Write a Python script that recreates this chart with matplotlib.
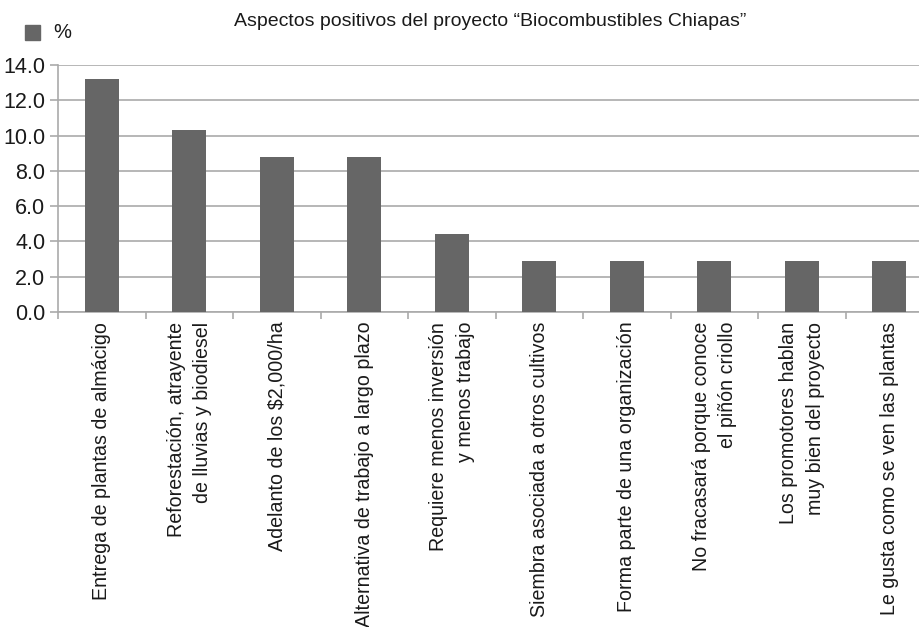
import matplotlib
matplotlib.use("Agg")
import matplotlib.pyplot as plt
import numpy as np

plt.rcParams["font.family"] = ["Liberation Sans Narrow", "Liberation Sans", "DejaVu Sans"]

# Data
categories = [
    "Entrega de plantas de almácigo",
    "Reforestación, atrayente\nde lluvias y biodiesel",
    "Adelanto de los $2,000/ha",
    "Alternativa de trabajo a largo plazo",
    "Requiere menos inversión\ny menos trabajo",
    "Siembra asociada a otros cultivos",
    "Forma parte de una organización",
    "No fracasará porque conoce\nel piñón criollo",
    "Los promotores hablan\nmuy bien del proyecto",
    "Le gusta como se ven las plantas",
]
values = [13.2, 10.3, 8.8, 8.8, 4.4, 2.9, 2.9, 2.9, 2.9, 2.9]
y_ticks = [0.0, 2.0, 4.0, 6.0, 8.0, 10.0, 12.0, 14.0]

bar_color = "#666666"
grid_color = "#aaaaaa"
text_color = "#1a1a1a"

fig = plt.figure(figsize=(9.19, 6.27), dpi=100)
W, H = 919, 627
# plot area runs past the right edge of the figure, as in the reference
left, right, top, bottom = 58, 933, 65, 312
ax = fig.add_axes([left / W, 1 - bottom / H, (right - left) / W, (bottom - top) / H])

x = np.arange(len(categories))
ax.bar(x, values, width=0.39, color=bar_color, zorder=3)

ax.set_xlim(-0.5, len(categories) - 0.5)
ax.set_ylim(0, 14)
ax.set_yticks(y_ticks)
ax.set_yticklabels([f"{v:.1f}" for v in y_ticks], fontsize=15.5, color=text_color)
ax.yaxis.grid(True, color=grid_color, linewidth=1.2, zorder=0)

# category labels at centres, tick marks at the boundaries
ax.set_xticks(x)
ax.set_xticklabels(categories, rotation=90, fontsize=14.1, color=text_color,
                   ha="center", va="top", multialignment="right", linespacing=1.5)
ax.tick_params(axis="x", length=0, pad=7)
ax.set_xticks(np.arange(-0.5, len(categories), 1.0), minor=True)
ax.tick_params(axis="x", which="minor", length=5, color=grid_color, width=1.2)
ax.tick_params(axis="y", length=6, color=grid_color, width=1.2, pad=3)

for side in ["top", "right"]:
    ax.spines[side].set_visible(False)
for side in ["left", "bottom"]:
    ax.spines[side].set_color(grid_color)
    ax.spines[side].set_linewidth(1.2)

fig.text(490 / W, 1 - 22 / H,
         "Aspectos positivos del proyecto \u201cBiocombustibles Chiapas\u201d",
         ha="center", va="center", fontsize=14, color=text_color)

# legend marker
fig.patches.append(plt.Rectangle((25 / W, 1 - 40 / H), 15 / W, 15 / H,
                                 transform=fig.transFigure, color=bar_color))
fig.text(53 / W, 1 - 32 / H, "%", ha="left", va="center", fontsize=14.5, color=text_color)

fig.savefig("out.png", dpi=100)
